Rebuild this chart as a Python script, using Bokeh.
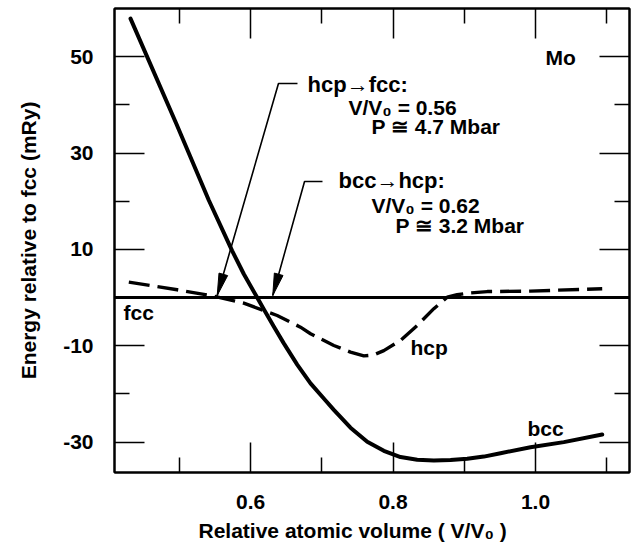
from math import hypot
from bokeh.plotting import figure
from bokeh.models import (Range1d, FixedTicker, LinearAxis, Span, Title, ColumnDataSource,
                          CustomJSTickFormatter)
from bokeh.core.properties import value
from bokeh.embed import file_html
from bokeh.resources import INLINE

# ---------------- data ----------------
bcc_v = [0.4315, 0.4955, 0.5414, 0.5742, 0.5905, 0.6093, 0.6186, 0.6326, 0.6467, 0.6655,
         0.6842, 0.7050, 0.7169, 0.7403, 0.7638, 0.7871, 0.8105, 0.8340, 0.8573, 0.8807,
         0.9042, 0.9275, 0.9509, 0.9930, 1.0398, 1.0937]
bcc_e = [57.9, 36.2, 20.2, 9.7, 4.9, 0.0, -2.4, -6.0, -9.5, -13.9,
         -17.8, -21.3, -23.3, -27.0, -29.9, -31.8, -33.1, -33.65, -33.8, -33.7,
         -33.45, -33.0, -32.3, -31.05, -30.0, -28.4]

hcp_v = [0.4291, 0.4970, 0.5438, 0.5905, 0.6374, 0.6701, 0.6842, 0.7169, 0.7403, 0.7590,
         0.7730, 0.7871, 0.8105, 0.8339, 0.8573, 0.8761, 0.8900, 0.9042, 0.9323, 0.9930,
         1.0937]
hcp_e = [3.2, 1.62, 0.44, -1.16, -3.71, -6.14, -7.5, -9.94, -11.3, -12.1,
         -11.9, -11.0, -8.9, -5.8, -2.3, 0.08, 0.6, 0.9, 1.25, 1.35,
         1.85]

fcc_e = 0.0

x_major = [0.6, 0.8, 1.0]
x_minor = [0.5, 0.7, 0.9, 1.1]
x_tick_labels = ["0.6", "0.8", "1.0"]
y_major = [-30, -10, 10, 30, 50]
y_minor = [-20, 0, 20, 40]
y_tick_labels = ["-30", "-10", "10", "30", "50"]

hcp_fcc_text = ["hcp\u2192fcc:", "V/V\u2080 = 0.56", "P \u2245 4.7 Mbar"]
bcc_hcp_text = ["bcc\u2192hcp:", "V/V\u2080 = 0.62", "P \u2245 3.2 Mbar"]
curve_names = ["fcc", "hcp", "bcc"]
element = "Mo"
x_title = "Relative atomic volume ( V/V\u2080 )"
y_title = "Energy relative to fcc (mRy)"

# ---------------- figure ----------------
W, H = 631, 552
MB_L, MB_R, MB_T, MB_B = 114, 2, 8, 80
x0, x1 = 0.409, 1.132
y0, y1 = -36.3, 60.0
FONT = value("Liberation Sans")

p = figure(width=W, height=H, x_range=Range1d(x0, x1), y_range=Range1d(y0, y1),
           output_backend="svg", toolbar_location=None,
           min_border_left=MB_L, min_border_right=MB_R,
           min_border_top=MB_T, min_border_bottom=MB_B)
p.xgrid.visible = False
p.ygrid.visible = False
p.outline_line_color = "black"
p.outline_line_width = 2
p.background_fill_color = "white"
p.border_fill_color = "white"


def style_axis(ax, major, minor, labels, show):
    ax.ticker = FixedTicker(ticks=major, minor_ticks=minor)
    ax.major_tick_in = 30
    ax.major_tick_out = 0
    ax.minor_tick_in = 15
    ax.minor_tick_out = 0
    ax.major_tick_line_width = 1.5
    ax.minor_tick_line_width = 1.5
    ax.major_tick_line_color = "black"
    ax.minor_tick_line_color = "black"
    ax.axis_line_width = 2
    ax.axis_line_color = "black"
    if show:
        ax.major_label_overrides = {t: s for t, s in zip(major, labels)}
        ax.major_label_text_font = "Liberation Sans"
        ax.major_label_text_font_style = "bold"
        ax.major_label_text_font_size = "21px"
        ax.major_label_text_color = "black"
    else:
        ax.formatter = CustomJSTickFormatter(code="return ''")
        ax.major_label_text_font_size = "0px"
        ax.major_label_standoff = 0


style_axis(p.xaxis[0], x_major, x_minor, x_tick_labels, True)
p.xaxis[0].major_label_standoff = 22
style_axis(p.yaxis[0], y_major, y_minor, y_tick_labels, True)
p.yaxis[0].major_label_standoff = 21
p.yaxis[0].axis_label = y_title
p.yaxis[0].axis_label_text_font = "Liberation Sans"
p.yaxis[0].axis_label_text_font_style = "bold"
p.yaxis[0].axis_label_text_font_size = "21px"
p.yaxis[0].axis_label_text_color = "black"
p.yaxis[0].axis_label_standoff = 20

top_ax = LinearAxis()
style_axis(top_ax, x_major, x_minor, x_tick_labels, False)
p.add_layout(top_ax, "above")
right_ax = LinearAxis()
style_axis(right_ax, y_major, y_minor, y_tick_labels, False)
p.add_layout(right_ax, "right")

# x-axis title (placed left-of-centre as in the reference)
p.add_layout(Title(text=x_title, align="left", offset=84, text_font="Liberation Sans",
                   text_font_style="bold", text_font_size="21px", text_color="black",
                   standoff=10), "below")

# ---------------- curves ----------------
p.add_layout(Span(location=fcc_e, dimension="width", line_color="black", line_width=3))
p.line(bcc_v, bcc_e, line_color="black", line_width=4, line_join="round", line_cap="round")
p.line(hcp_v, hcp_e, line_color="black", line_width=3.4, line_dash="21 8", line_join="round")

# ---------------- arrows ----------------
frame_w = W - MB_L - MB_R
frame_h = H - MB_T - MB_B
sx = frame_w / (x1 - x0)
sy = frame_h / (y1 - y0)


def arrow(path, L=22, Wd=9):
    p.line([q[0] for q in path], [q[1] for q in path], line_color="black", line_width=1.6)
    (ax_, ay_), (tx, ty) = path[-2], path[-1]
    dx, dy = (tx - ax_) * sx, (ty - ay_) * sy
    n = hypot(dx, dy)
    ux, uy = dx / n, dy / n
    bx, by = tx - L * ux / sx, ty - L * uy / sy
    nx, ny = -uy, ux
    xs = [tx, bx + Wd / 2 * nx / sx, bx - Wd / 2 * nx / sx]
    ys = [ty, by + Wd / 2 * ny / sy, by - Wd / 2 * ny / sy]
    p.patch(xs, ys, fill_color="black", line_color="black", line_width=1)


arrow([(0.6659, 44.43), (0.6392, 44.43), (0.5532, 0.44)])
arrow([(0.7010, 24.10), (0.6758, 24.10), (0.6312, 0.44)])

# ---------------- texts ----------------
def texts(xs, ys, ts, size):
    src = ColumnDataSource(dict(x=xs, y=ys, t=ts))
    p.text(x="x", y="y", text="t", source=src, text_font=FONT, text_font_style="bold",
           text_font_size=size, text_color="black", text_align="left",
           text_baseline="alphabetic")


texts([0.6800], [44.2], hcp_fcc_text[:1], "22px")
texts([0.7375, 0.7698], [39.4, 35.5], hcp_fcc_text[1:], "21px")
texts([0.7235], [24.3], bcc_hcp_text[:1], "22px")
texts([0.7698, 0.8035], [19.1, 14.95], bcc_hcp_text[1:], "21px")
texts([0.4216, 0.8246, 0.9888], [-3.1, -10.4, -27.2], curve_names, "21px")
texts([1.0141], [49.9], [element], "21px")

open("out.html", "w").write(file_html(p, INLINE))
